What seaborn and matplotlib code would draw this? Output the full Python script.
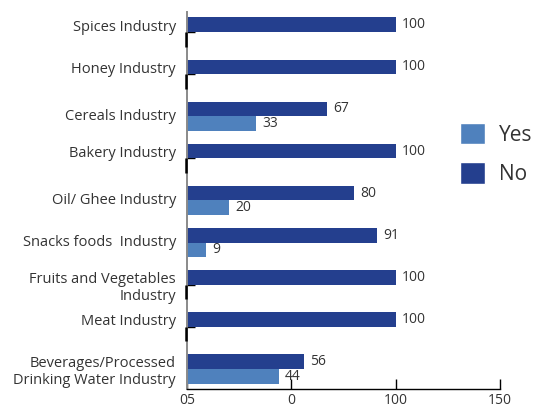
import matplotlib
matplotlib.use("Agg")
import matplotlib.pyplot as plt
import matplotlib.transforms as mtransforms
from matplotlib.patches import Patch
import pandas as pd
import seaborn as sns

industries = [
    "Spices Industry",
    "Honey Industry",
    "Cereals Industry",
    "Bakery Industry",
    "Oil/ Ghee Industry",
    "Snacks foods  Industry",
    "Fruits and Vegetables\nIndustry",
    "Meat Industry",
    "Beverages/Processed\nDrinking Water Industry",
]
yes_values = [0, 0, 33, 0, 20, 9, 0, 0, 44]
no_values = [100, 100, 67, 100, 80, 91, 100, 100, 56]
xtick_values = [0, 50, 100, 150]
xtick_labels = ["05", "0", "100", "150"]

YES_COLOR = "#4F81BD"
NO_COLOR = "#243F8E"
TEXT_COLOR = "#333333"

sns.set_theme(style="white")
plt.rcParams["font.family"] = ["Open Sans", "DejaVu Sans"]

df = pd.DataFrame({
    "Industry": industries * 2,
    "Response": ["No"] * len(industries) + ["Yes"] * len(industries),
    "Percent": no_values + yes_values,
})

fig = plt.figure(figsize=(5.34, 4.08), dpi=100)
ax = fig.add_axes([187 / 534, 1 - 389 / 408, 313 / 534, 377 / 408])

sns.barplot(
    data=df, y="Industry", x="Percent", hue="Response",
    hue_order=["No", "Yes"], order=industries, orient="h",
    palette={"No": NO_COLOR, "Yes": YES_COLOR},
    width=0.7, gap=0, legend=False, ax=ax, saturation=1, errorbar=None,
)

# zero-valued bars show up as a thin dark stroke just left of the axis
shift = mtransforms.ScaledTranslation(-1.5 / 100, 0, fig.dpi_scale_trans)
for cont in ax.containers:
    for p in cont.patches:
        p.set_linewidth(0)
        if p.get_width() == 0:
            p.set_edgecolor("black")
            p.set_linewidth(1.8)
            p.set_zorder(3)
            p.set_clip_on(False)
            p.set_transform(ax.transData + shift)

for cont, vals in zip(ax.containers, [no_values, yes_values]):
    ax.bar_label(cont, labels=[str(v) if v else "" for v in vals],
                 padding=4.5, fontsize=10, color=TEXT_COLOR)

ax.set_xlim(0, 150)
ax.set_ylim(len(industries) - 0.52, -0.48)
ax.set_xticks(xtick_values)
ax.set_xticklabels(xtick_labels)
ax.set_xlabel("")
ax.set_ylabel("")

ax.tick_params(axis="x", direction="in", length=7, width=1, color="black",
               pad=3, labelsize=10, labelcolor=TEXT_COLOR, bottom=True)
ax.tick_params(axis="y", direction="in", length=6, width=1, color="black",
               pad=8, labelsize=10.5, labelcolor=TEXT_COLOR, left=True)

# single-line labels of bars without a "Yes" value sit beside the lone bar
for lbl, yv in zip(ax.get_yticklabels(), yes_values):
    text = lbl.get_text()
    if "\n" in text:
        continue
    dy = -7 if yv == 0 else -2
    lbl.set_transform(lbl.get_transform() +
                      mtransforms.ScaledTranslation(0, -dy / 100, fig.dpi_scale_trans))

for side in ("top", "right"):
    ax.spines[side].set_visible(False)
ax.spines["left"].set_color("#8a8a8a")
ax.spines["left"].set_linewidth(1.4)
ax.spines["bottom"].set_color("black")
ax.spines["bottom"].set_linewidth(1)

handles = [Patch(facecolor=YES_COLOR, label="Yes"), Patch(facecolor=NO_COLOR, label="No")]
fig.legend(handles=handles, loc="center left", bbox_to_anchor=(460 / 534, 1 - 154 / 408),
           frameon=False, fontsize=15, handlelength=1.2, handleheight=1.2,
           handletextpad=0.65, labelspacing=0.8, borderpad=0, borderaxespad=0,
           labelcolor=TEXT_COLOR)

fig.savefig("out.png", dpi=100)
